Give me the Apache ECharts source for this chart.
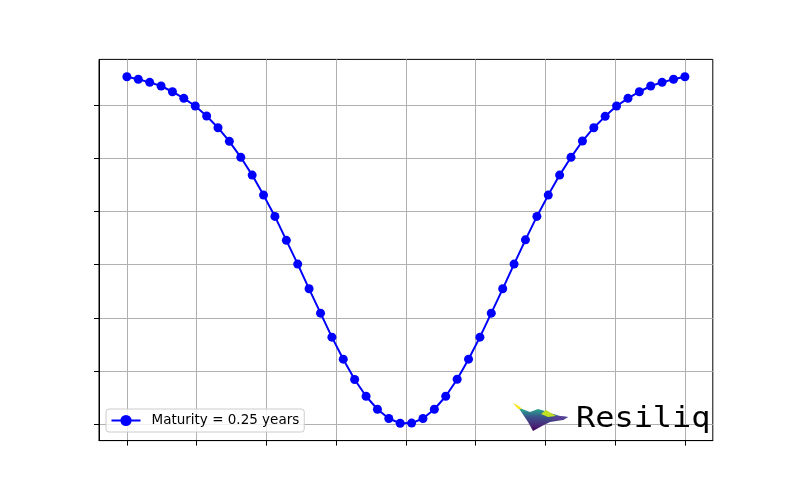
<!DOCTYPE html>
<html>
<head>
<meta charset="UTF-8">
<title>Maturity 0.25 years</title>
<script src="https://cdn.jsdelivr.net/npm/echarts@6/dist/echarts.min.js"></script>
<style>
  html, body { margin: 0; padding: 0; background: #fff; }
  #chart { width: 792px; height: 495px; }
</style>
</head>
<body>
<div id="chart"></div>
<script>
// moneyness grid (50 points)
var moneyness = [0.6, 0.6163, 0.6327, 0.6490, 0.6653, 0.6816, 0.6980, 0.7143, 0.7306, 0.7469,
  0.7633, 0.7796, 0.7959, 0.8122, 0.8286, 0.8449, 0.8612, 0.8776, 0.8939, 0.9102,
  0.9265, 0.9429, 0.9592, 0.9755, 0.9918, 1.0082, 1.0245, 1.0408, 1.0571, 1.0735,
  1.0898, 1.1061, 1.1224, 1.1388, 1.1551, 1.1714, 1.1878, 1.2041, 1.2204, 1.2367,
  1.2531, 1.2694, 1.2857, 1.3020, 1.3184, 1.3347, 1.3510, 1.3673, 1.3837, 1.4];
// values
var vol = [0.5265, 0.5241, 0.5212, 0.5178, 0.5124, 0.5062, 0.4990, 0.4896, 0.4786, 0.4658,
  0.4508, 0.4341, 0.4153, 0.3953, 0.3728, 0.3505, 0.3273, 0.3044, 0.2819, 0.2612,
  0.2421, 0.2264, 0.2142, 0.2055, 0.2010, 0.2012, 0.2055, 0.2142, 0.2264, 0.2424,
  0.2612, 0.2819, 0.3044, 0.3273, 0.3505, 0.3733, 0.3953, 0.4153, 0.4341, 0.4508,
  0.4661, 0.4786, 0.4893, 0.4990, 0.5062, 0.5124, 0.5178, 0.5212, 0.5241, 0.5265];
var xTicks = [0.6, 0.7, 0.8, 0.9, 1.0, 1.1, 1.2, 1.3, 1.4];
var yTicks = [0.20, 0.25, 0.30, 0.35, 0.40, 0.45, 0.50];
var seriesName = 'Maturity = 0.25 years';

var chart = echarts.init(document.getElementById('chart'));

// matplotlib-like 5% margins
function padMin(v) { return v.min - 0.05 * (v.max - v.min); }
function padMax(v) { return v.max + 0.05 * (v.max - v.min); }

var data = [];
for (var i = 0; i < moneyness.length; i++) {
  data.push([moneyness[i], vol[i]]);
}

var option = {
  animation: false,
  backgroundColor: '#ffffff',
  grid: {
    left: 99, top: 59.4, width: 613.8, height: 381.2,
    show: true, borderColor: '#000', borderWidth: 1, backgroundColor: 'transparent'
  },
  xAxis: {
    type: 'value', min: padMin, max: padMax,
    axisLine: { show: true, onZero: false, lineStyle: { color: '#000', width: 1 } },
    axisTick: { show: true, length: 5, lineStyle: { color: '#000', width: 1 }, customValues: xTicks },
    axisLabel: { show: false, customValues: xTicks },
    splitLine: { show: true, lineStyle: { color: '#b0b0b0', width: 1 } }
  },
  yAxis: {
    type: 'value', min: padMin, max: padMax,
    axisLine: { show: true, onZero: false, lineStyle: { color: '#000', width: 1 } },
    axisTick: { show: true, length: 5, lineStyle: { color: '#000', width: 1 }, customValues: yTicks },
    axisLabel: { show: false, customValues: yTicks },
    splitLine: { show: true, lineStyle: { color: '#b0b0b0', width: 1 } }
  },
  legend: {
    left: 106, top: 409,
    padding: [4.5, 5, 4.5, 4.5],
    backgroundColor: 'rgba(255,255,255,0.8)',
    borderColor: '#cccccc', borderWidth: 1, borderRadius: 3,
    itemWidth: 29, itemHeight: 14,
    textStyle: { fontFamily: 'DejaVu Sans', fontSize: 13.5, color: '#000', padding: [0, 0, 0, 6] },
    data: [seriesName]
  },
  graphic: [
    // logo surface
    {
      type: 'polygon', z: 10,
      shape: { points: [[513, 403], [522, 409], [530, 412], [538, 409], [545, 411], [550, 413], [560, 416], [568, 417], [563, 420], [550, 422], [542, 426], [533, 431], [528, 422], [520, 410]] },
      style: {
        fill: new echarts.graphic.LinearGradient(0, 0, 0, 1, [
          { offset: 0, color: '#7ad151' },
          { offset: 0.25, color: '#2a9d8f' },
          { offset: 0.5, color: '#3b528b' },
          { offset: 0.8, color: '#482878' },
          { offset: 1, color: '#440154' }
        ])
      }
    },
    {
      type: 'polygon', z: 11,
      shape: { points: [[513, 403], [519, 406], [522, 409], [518, 409]] },
      style: { fill: '#fde725' }
    },
    {
      type: 'polygon', z: 11,
      shape: { points: [[541, 414], [546, 410], [551, 413], [556, 416], [548, 417]] },
      style: { fill: '#c2df23' }
    },
    {
      type: 'polygon', z: 11,
      shape: { points: [[552, 417], [560, 416], [568, 417], [563, 420], [553, 420]] },
      style: { fill: '#5c3d99', opacity: 0.85 }
    },
    {
      type: 'text', z: 12, left: 576, top: 405.5, scaleX: 1.12, originX: 0,
      style: { text: 'Resiliq', fontFamily: 'DejaVu Sans Mono', fontSize: 28.5, fill: '#000' }
    }
  ],
  series: [{
    name: seriesName,
    type: 'line',
    data: data,
    symbol: 'circle',
    symbolSize: 9,
    color: '#0000ff',
    lineStyle: { color: '#0000ff', width: 2 },
    itemStyle: { color: '#0000ff' }
  }]
};

chart.setOption(option);
</script>
</body>
</html>
